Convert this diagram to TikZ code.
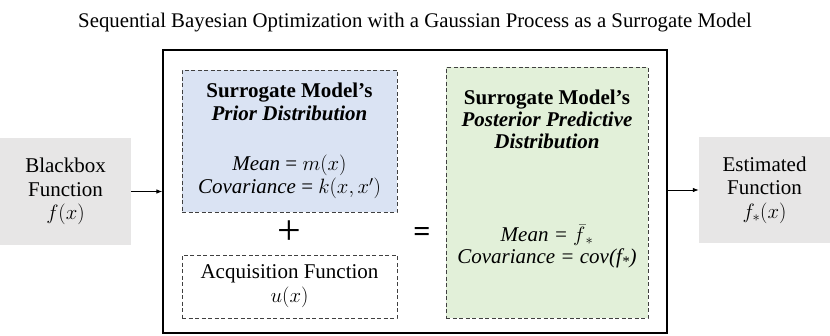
\documentclass[tikz,border=0pt]{standalone}
\usepackage{fontspec}
\setmainfont{Liberation Serif}
\usepackage{tikz}
\usetikzlibrary{arrows.meta,positioning}

\definecolor{priorblue}{RGB}{218,227,243}
\definecolor{postgreen}{RGB}{226,240,217}
\definecolor{ioggray}{RGB}{231,230,230}
\definecolor{dashgray}{RGB}{64,64,64}

\begin{document}
\begin{tikzpicture}[
  x=1pt, y=-1pt,
  every node/.style={align=center, inner sep=0pt},
  txt/.style={font=\fontsize{21}{23.5}\selectfont},
  iobox/.style={txt, fill=ioggray},
  dbox/.style={draw=dashgray, line width=0.9pt, dash pattern=on 4pt off 2.5pt},
  frame/.style={draw=black, line width=1.3pt},
  arrow/.style={-{Latex[length=6pt,width=4.5pt]}, line width=0.8pt},
]
\useasboundingbox (0,0) rectangle (830,335);

\node[font=\fontsize{20.8}{24}\selectfont] (title) at (415,23)
  {Sequential Bayesian Optimization with a Gaussian Process as a Surrogate Model};

% main frame
\node[frame, minimum width=504, minimum height=283] (core) at (415,191.5) {};

% input and output
\node[iobox, minimum width=131, minimum height=107] (blackbox) at (65.5,191.5)
  {Blackbox\\Function\\$f(x)$};
\node[iobox, minimum width=131, minimum height=106] (estim) at (764.5,190)
  {Estimated\\Function\\$f_*(x)$};

\draw[arrow] (blackbox.east) -- (blackbox.east -| core.west);
\draw[arrow] (core.east |- estim.west) -- (estim.west);

% prior + acquisition
\node[dbox, txt, fill=priorblue, minimum width=215, minimum height=142] (prior) at (289.5,141)
  {\textbf{Surrogate Model's}\\\textbf{\textit{Prior Distribution}}\\[26pt]
   \textit{Mean} = $m(x)$\\\textit{Covariance} = $k(x,x')$};
\node[dbox, txt, fill=white, minimum width=215, minimum height=63] (acq) at (289.5,286.5)
  {Acquisition Function\\[0.5pt]$u(x)$};
\node[font=\fontsize{42}{42}\selectfont] (plus) at (289.5,233) {+};

% posterior
\node[font=\bfseries\fontsize{30}{30}\selectfont] (equals) at (422,234) {=};
\node[dbox, fill=postgreen, minimum width=202, minimum height=251] (post) at (547,192.5) {};
\node[font=\fontsize{21}{22}\selectfont] (posttext) at (547,179)
  {\textbf{Surrogate Model's}\\\textbf{\textit{Posterior Predictive}}\\\textbf{\textit{Distribution}}\\[71pt]
   \textit{Mean = }$\bar{f}_{\,*}$\\\textit{Covariance = cov(f\textsubscript{*})}};

\end{tikzpicture}
\end{document}
